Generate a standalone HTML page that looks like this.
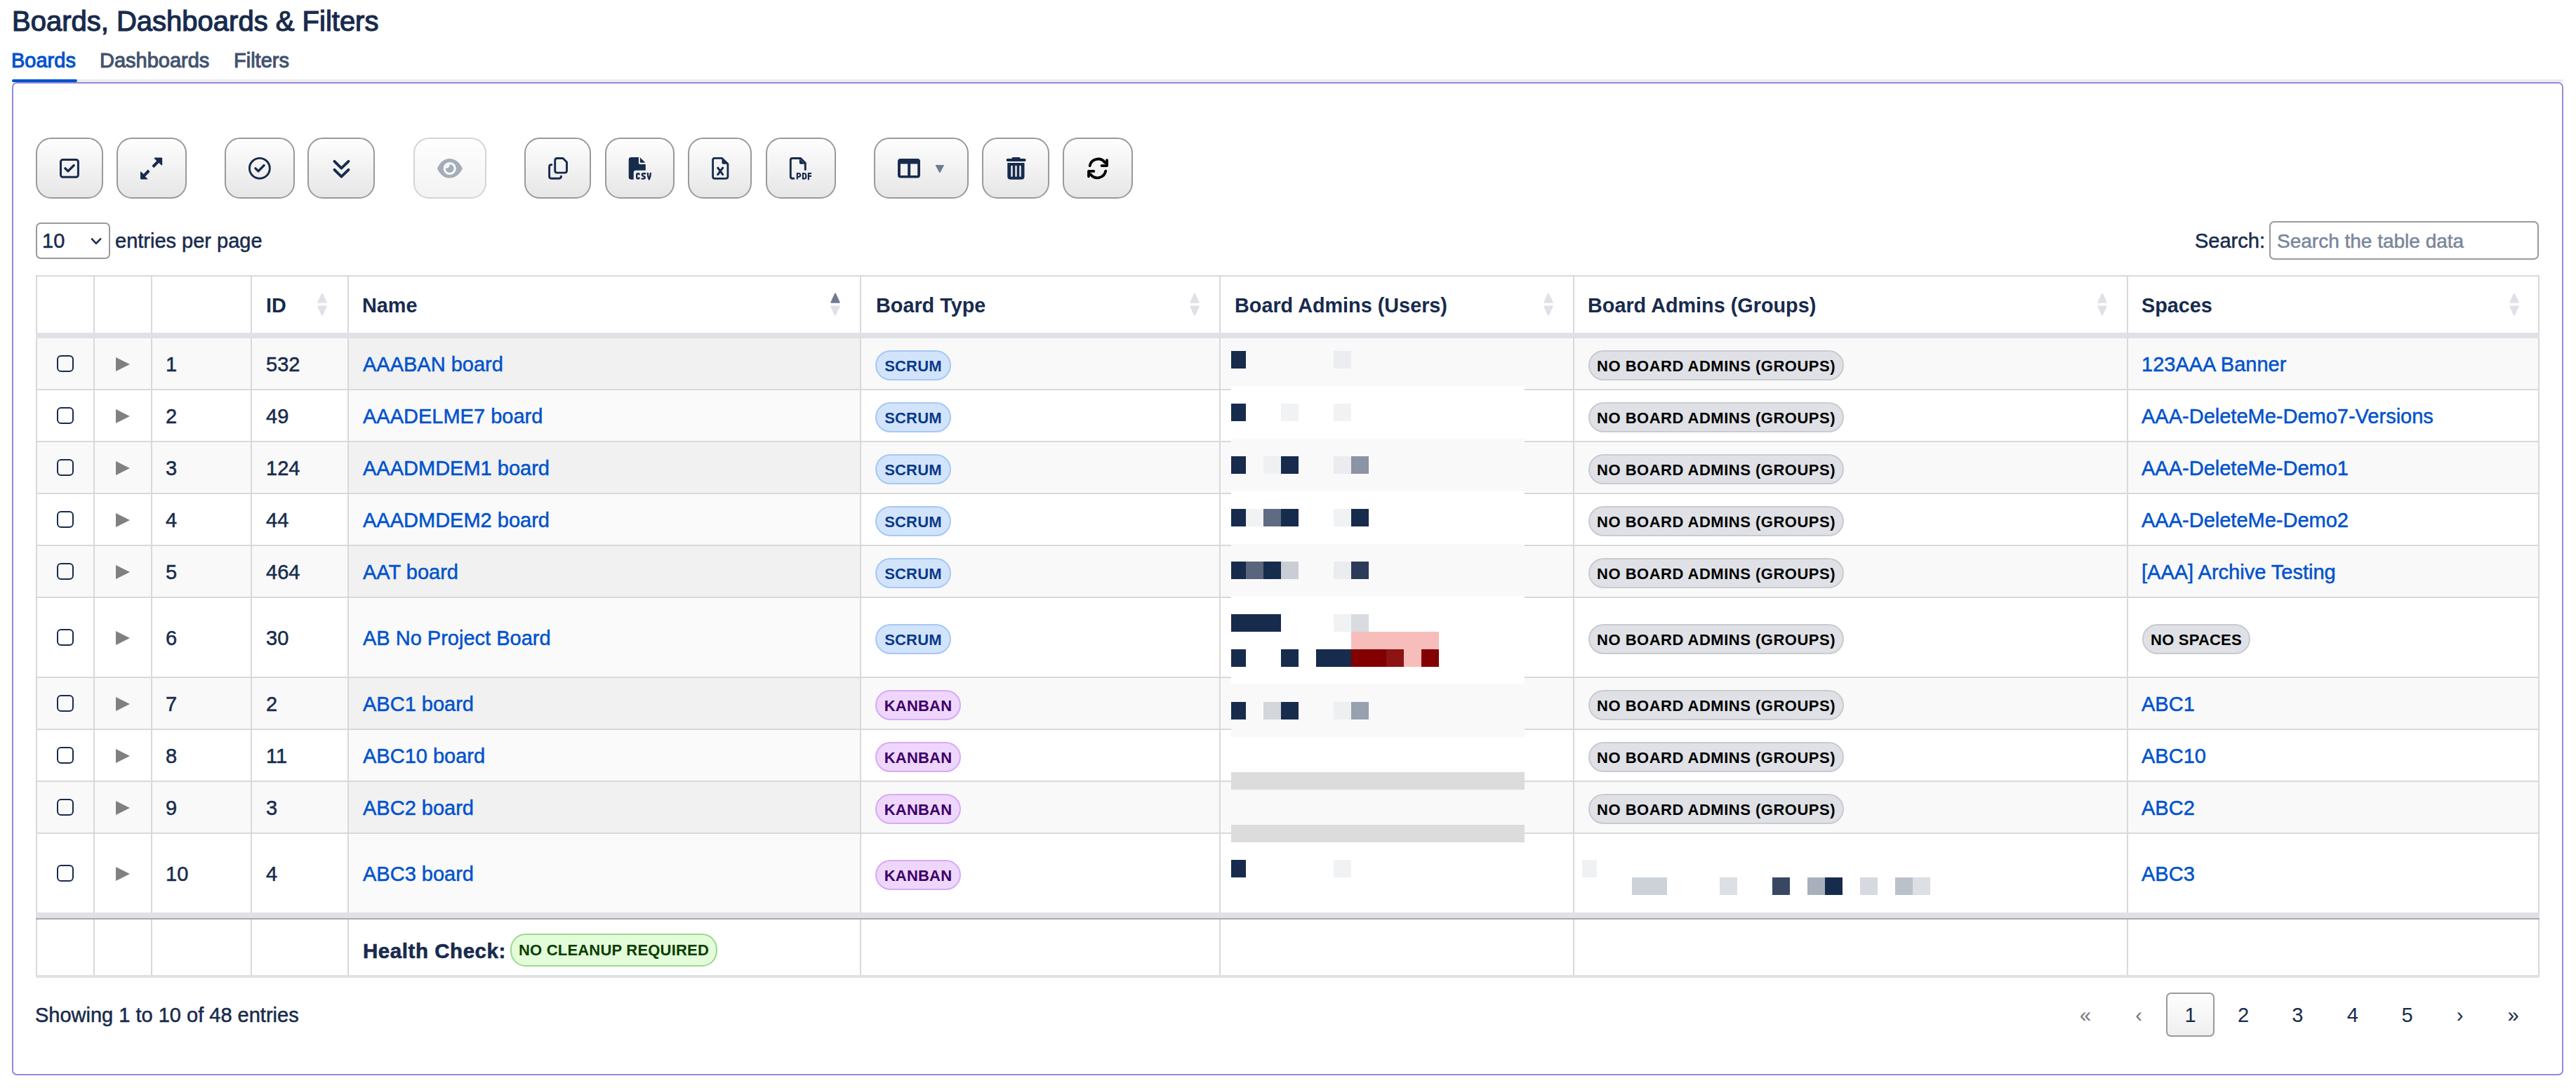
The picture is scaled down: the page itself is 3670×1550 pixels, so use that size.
<!DOCTYPE html>
<html><head><meta charset="utf-8"><title>Boards, Dashboards &amp; Filters</title>
<style>
html,body{margin:0;padding:0;background:#fff}
body{width:3670px;height:1550px;position:relative;overflow:hidden;font-family:"Liberation Sans",sans-serif}
.t{position:absolute;white-space:nowrap}
.b{position:absolute;box-sizing:border-box;border:2px solid;border-radius:22px;font-weight:700;text-align:center;white-space:nowrap;letter-spacing:0.2px}
svg{overflow:visible}
</style></head><body>
<div class="t" style="left:17px;top:8px;font-size:40px;line-height:44px;color:#172b4d;font-weight:400;-webkit-text-stroke:1.2px #172b4d;">Boards, Dashboards &amp; Filters</div>
<div class="t" style="left:16px;top:70px;font-size:29px;line-height:32px;color:#0052cc;font-weight:400;-webkit-text-stroke:1px #0052cc;">Boards</div>
<div class="t" style="left:142px;top:70px;font-size:29px;line-height:32px;color:#42526e;font-weight:400;-webkit-text-stroke:1px #42526e;">Dashboards</div>
<div class="t" style="left:333px;top:70px;font-size:29px;line-height:32px;color:#42526e;font-weight:400;-webkit-text-stroke:1px #42526e;">Filters</div>
<div style="position:absolute;left:17px;top:113px;width:3635px;height:4px;background:#ebecf0;border-radius:2px"></div>
<div style="position:absolute;left:17px;top:113px;width:93px;height:4px;background:#0052cc;border-radius:2px"></div>
<div style="position:absolute;left:17px;top:117px;width:3635px;height:1415px;box-sizing:border-box;border:2px solid #9488d6;border-radius:7px"></div>
<div style="position:absolute;left:51px;top:196px;width:96px;height:87px;box-sizing:border-box;border:2px solid #9a9a9a;border-radius:22px;background:linear-gradient(#fefefe,#e6e6e6)"></div>
<div style="position:absolute;left:166px;top:196px;width:100px;height:87px;box-sizing:border-box;border:2px solid #9a9a9a;border-radius:22px;background:linear-gradient(#fefefe,#e6e6e6)"></div>
<div style="position:absolute;left:320px;top:196px;width:100px;height:87px;box-sizing:border-box;border:2px solid #9a9a9a;border-radius:22px;background:linear-gradient(#fefefe,#e6e6e6)"></div>
<div style="position:absolute;left:438px;top:196px;width:96px;height:87px;box-sizing:border-box;border:2px solid #9a9a9a;border-radius:22px;background:linear-gradient(#fefefe,#e6e6e6)"></div>
<div style="position:absolute;left:589px;top:196px;width:104px;height:87px;box-sizing:border-box;border:2px solid #d4d4d4;border-radius:22px;background:linear-gradient(#fefefe,#f3f3f3)"></div>
<div style="position:absolute;left:747px;top:196px;width:95px;height:87px;box-sizing:border-box;border:2px solid #9a9a9a;border-radius:22px;background:linear-gradient(#fefefe,#e6e6e6)"></div>
<div style="position:absolute;left:862px;top:196px;width:99px;height:87px;box-sizing:border-box;border:2px solid #9a9a9a;border-radius:22px;background:linear-gradient(#fefefe,#e6e6e6)"></div>
<div style="position:absolute;left:980px;top:196px;width:91px;height:87px;box-sizing:border-box;border:2px solid #9a9a9a;border-radius:22px;background:linear-gradient(#fefefe,#e6e6e6)"></div>
<div style="position:absolute;left:1091px;top:196px;width:100px;height:87px;box-sizing:border-box;border:2px solid #9a9a9a;border-radius:22px;background:linear-gradient(#fefefe,#e6e6e6)"></div>
<div style="position:absolute;left:1245px;top:196px;width:135px;height:87px;box-sizing:border-box;border:2px solid #9a9a9a;border-radius:22px;background:linear-gradient(#fefefe,#e6e6e6)"></div>
<div style="position:absolute;left:1399px;top:196px;width:96px;height:87px;box-sizing:border-box;border:2px solid #9a9a9a;border-radius:22px;background:linear-gradient(#fefefe,#e6e6e6)"></div>
<div style="position:absolute;left:1514px;top:196px;width:100px;height:87px;box-sizing:border-box;border:2px solid #9a9a9a;border-radius:22px;background:linear-gradient(#fefefe,#e6e6e6)"></div>
<svg style="position:absolute;left:80px;top:220px" width="40" height="40" viewBox="0 0 40 40"><rect x="6.5" y="7.4" width="24.9" height="24.9" rx="3" fill="none" stroke="#172b4d" stroke-width="3"/><path d="M12.9 19.9 L16.9 23.9 L25.2 15.6" fill="none" stroke="#172b4d" stroke-width="3.4" stroke-linecap="round" stroke-linejoin="round"/></svg>
<svg style="position:absolute;left:195px;top:220px" width="40" height="40" viewBox="0 0 40 40"><path d="M25.4 4.4 H34.8 Q36.2 4.4 36.2 5.8 V14.6 Q36.2 16 34.8 15.2 L31.4 12 L25 18.4 Q24.2 19.2 23.4 18.4 L22 17 Q21.2 16.2 22 15.4 L28.2 9.2 L25 6 Q24.2 4.4 25.4 4.4 Z" fill="#172b4d"/><path d="M15.6 21.6 L17.8 23.6 Q18.8 24.6 17.8 25.6 L11.8 31.6 L15 34.4 Q15.8 35.6 14.6 35.6 H6.4 Q5 35.6 5 34.2 V25.4 Q5 24 6.2 24.8 L9.6 28 L13.8 23.6 Z" fill="#172b4d"/></svg>
<svg style="position:absolute;left:350px;top:220px" width="40" height="40" viewBox="0 0 40 40"><circle cx="19.9" cy="19.85" r="14.45" fill="none" stroke="#172b4d" stroke-width="2.9"/><path d="M14 19.9 L18 23.9 L26.1 15.6" fill="none" stroke="#172b4d" stroke-width="3.4" stroke-linecap="round" stroke-linejoin="round"/></svg>
<svg style="position:absolute;left:466px;top:220px" width="40" height="40" viewBox="0 0 40 40"><path d="M10.5 9.9 L20.4 19.7 L30.5 9.9 M10.5 21.9 L20.4 31.6 L30.5 21.9" fill="none" stroke="#172b4d" stroke-width="3.9" stroke-linecap="round" stroke-linejoin="round"/></svg>
<svg style="position:absolute;left:620px;top:220px" width="40" height="40" viewBox="0 0 40 40"><path d="M2.9 19.9 C7 11 13 6.1 20.5 6.1 C28 6.1 34.5 11 39 19.9 C34.5 28.8 28 33.6 20.5 33.6 C13 33.6 7 28.8 2.9 19.9 Z" fill="#a5adba"/><circle cx="20.7" cy="20" r="9.1" fill="#f9f9f9"/><clipPath id="pc"><circle cx="20.7" cy="20" r="6"/></clipPath><circle cx="20.7" cy="20" r="6" fill="#a5adba"/><circle cx="14.9" cy="14" r="6.1" fill="#f9f9f9" clip-path="url(#pc)"/></svg>
<svg style="position:absolute;left:775px;top:220px" width="40" height="40" viewBox="0 0 40 40"><path d="M17.8 5.5 H27 L32.5 11 V23 Q32.5 26.1 29.4 26.1 H18.8 Q15.7 26.1 15.7 23 V8.6 Q15.7 5.5 18.8 5.5 Z" fill="none" stroke="#172b4d" stroke-width="2.9" stroke-linejoin="round"/><path d="M12.1 14.6 H10.6 Q7.6 14.6 7.6 17.6 V31.2 Q7.6 34.2 10.6 34.2 H21.4 Q24.4 34.2 24.4 31.2 V30.1" fill="none" stroke="#172b4d" stroke-width="2.9"/></svg>
<svg style="position:absolute;left:890px;top:220px" width="40" height="40" viewBox="0 0 40 40"><path d="M9.2 4 H19.9 V11.4 Q19.9 14 22.5 14 H29.8 V22.8 H15.8 Q12.7 22.8 12.7 25.9 V35.7 H9.2 Q5.7 35.7 5.7 32.2 V7.5 Q5.7 4 9.2 4 Z" fill="#172b4d"/><path d="M21.9 4.2 V11.8 H29.4 Z" fill="#172b4d"/><path d="M20.6 28.2 Q20.6 27.3 19 27.3 Q17.2 27.3 17.2 29.2 V32.6 Q17.2 34.5 19 34.5 Q20.6 34.5 20.6 33.4" fill="none" stroke="#172b4d" stroke-width="2.4" stroke-linecap="round"/><path d="M29.2 27.3 H26.6 Q24.8 27.3 24.8 28.9 Q24.8 30.3 26.6 30.9 Q28.8 31.5 28.8 33 Q28.8 34.6 26.8 34.6 H24.6" fill="none" stroke="#172b4d" stroke-width="2.4" stroke-linecap="round"/><path d="M32.8 26.9 Q32.9 32 34.8 35 Q36.7 32 36.8 26.9" fill="none" stroke="#172b4d" stroke-width="2.4" stroke-linecap="round"/></svg>
<svg style="position:absolute;left:1005px;top:220px" width="40" height="40" viewBox="0 0 40 40"><path d="M13 5.4 H23.6 L31.9 13.6 V31.5 Q31.9 34.3 29.1 34.3 H13 Q10.6 34.3 10.6 31.5 V8.2 Q10.6 5.4 13 5.4 Z" fill="none" stroke="#172b4d" stroke-width="2.8" stroke-linejoin="round"/><path d="M23.5 5.5 V11.9 Q23.5 13.8 25.4 13.8 H31.6 Z" fill="#172b4d"/><path d="M17.7 19.2 L24.7 28.6 M24.7 19.2 L17.7 28.6" fill="none" stroke="#172b4d" stroke-width="3" stroke-linecap="round"/></svg>
<svg style="position:absolute;left:1120px;top:220px" width="40" height="40" viewBox="0 0 40 40"><path d="M11.9 34.2 H8.4 Q6.3 34.2 6.3 31.6 V8.1 Q6.3 5.5 8.9 5.5 H20.6 L27.3 12.2 V22.8" fill="none" stroke="#172b4d" stroke-width="2.9" stroke-linejoin="round"/><path d="M18.9 6.2 V12.1 Q18.9 13.8 20.6 13.8 H27 Z" fill="#172b4d"/><path d="M15.8 35.5 V27 H17.6 Q20.2 27 20.2 29.5 Q20.2 32 17.6 32 H15.8" fill="none" stroke="#172b4d" stroke-width="2.2" stroke-linejoin="round"/><path d="M23.9 27 H25.3 Q28.4 27 28.4 31.2 Q28.4 34.6 25.3 34.6 H23.9 Z" fill="none" stroke="#172b4d" stroke-width="2.2" stroke-linejoin="round"/><path d="M31.9 35.5 V27 H35.3 M31.9 30.9 H35.1" fill="none" stroke="#172b4d" stroke-width="2.2" stroke-linecap="round"/></svg>
<svg style="position:absolute;left:1275px;top:220px" width="75" height="40" viewBox="0 0 75 40"><path d="M8 6.1 H32 Q36 6.1 36 10.1 V29.6 Q36 33.6 32 33.6 H8 Q4 33.6 4 29.6 V10.1 Q4 6.1 8 6.1 Z M7.9 13.6 V30 H18.2 V13.6 Z M22.1 13.6 V30 H32.2 V13.6 Z" fill="#172b4d" fill-rule="evenodd"/><path d="M58.6 15.1 H69 Q70.2 15.1 69.6 16.3 L64.8 25.6 Q64 26.9 63.2 25.6 L58 16.3 Q57.4 15.1 58.6 15.1 Z" fill="#707b91"/></svg>
<svg style="position:absolute;left:1427px;top:220px" width="40" height="40" viewBox="0 0 40 40"><path d="M16 3.9 H24.8 Q25.8 3.9 26.4 5 L26.9 5.9 H32.6 Q34.6 5.9 34.6 7.9 Q34.6 9.9 32.6 9.9 H8.6 Q6.6 9.9 6.6 7.9 Q6.6 5.9 8.6 5.9 H14.3 L14.8 5 Q15.2 3.9 16 3.9 Z" fill="#172b4d"/><path d="M8.3 12.1 H32.5 V31.5 Q32.5 35.7 28.3 35.7 H12.5 Q8.3 35.7 8.3 31.5 Z" fill="#172b4d"/><path d="M14.5 17 V30.8 M20.5 17 V30.8 M26.5 17 V30.8" stroke="#f0f0f0" stroke-width="2.4" stroke-linecap="round"/></svg>
<svg style="position:absolute;left:1544px;top:220px" width="40" height="40" viewBox="0 0 40 40"><path d="M8.7 16.1 A12 12 0 0 1 30.2 11.6" fill="none" stroke="#000" stroke-width="3.8" stroke-linecap="round"/><path d="M33 8.2 V16.1 H25.6" fill="none" stroke="#000" stroke-width="3.8" stroke-linecap="round" stroke-linejoin="round"/><path d="M31.2 23.7 A12 12 0 0 1 9.6 28.2" fill="none" stroke="#000" stroke-width="3.8" stroke-linecap="round"/><path d="M7 31.3 V23.9 H14.3" fill="none" stroke="#000" stroke-width="3.8" stroke-linecap="round" stroke-linejoin="round"/></svg>
<div style="position:absolute;left:51px;top:317px;width:106px;height:52px;box-sizing:border-box;border:2px solid #9a9a9a;border-radius:7px;background:#fff"></div>
<div class="t" style="left:60px;top:327px;font-size:29px;line-height:32px;color:#172b4d;font-weight:400;-webkit-text-stroke:0.5px #172b4d;">10</div>
<svg style="position:absolute;left:125px;top:330px" width="25" height="25" viewBox="0 0 25 25"><path d="M5.9 10.4 L12 16.9 L18.2 10.4" fill="none" stroke="#172b4d" stroke-width="2.5" stroke-linecap="round" stroke-linejoin="round"/></svg>
<div class="t" style="left:164px;top:327px;font-size:29px;line-height:32px;color:#172b4d;font-weight:400;-webkit-text-stroke:0.5px #172b4d;">entries per page</div>
<div class="t" style="left:3127px;top:327px;font-size:29px;line-height:32px;color:#172b4d;font-weight:400;-webkit-text-stroke:0.5px #172b4d;">Search:</div>
<div style="position:absolute;left:3233px;top:315px;width:384px;height:55px;box-sizing:border-box;border:2px solid #9a9a9a;border-radius:7px;background:#fff"></div>
<div class="t" style="left:3244px;top:328px;font-size:28px;line-height:31px;color:#7a869a;font-weight:400;-webkit-text-stroke:0.5px #7a869a;">Search the table data</div>
<div style="position:absolute;left:51px;top:482px;width:3567px;height:74px;background:#f9f9f9"></div>
<div style="position:absolute;left:497px;top:482px;width:728px;height:72px;background:#f1f1f1"></div>
<div style="position:absolute;left:51px;top:556px;width:3567px;height:74px;background:#fff"></div>
<div style="position:absolute;left:497px;top:556px;width:728px;height:72px;background:#fafafa"></div>
<div style="position:absolute;left:51px;top:630px;width:3567px;height:74px;background:#f9f9f9"></div>
<div style="position:absolute;left:497px;top:630px;width:728px;height:72px;background:#f1f1f1"></div>
<div style="position:absolute;left:51px;top:704px;width:3567px;height:74px;background:#fff"></div>
<div style="position:absolute;left:497px;top:704px;width:728px;height:72px;background:#fafafa"></div>
<div style="position:absolute;left:51px;top:778px;width:3567px;height:74px;background:#f9f9f9"></div>
<div style="position:absolute;left:497px;top:778px;width:728px;height:72px;background:#f1f1f1"></div>
<div style="position:absolute;left:51px;top:852px;width:3567px;height:114px;background:#fff"></div>
<div style="position:absolute;left:497px;top:852px;width:728px;height:112px;background:#fafafa"></div>
<div style="position:absolute;left:51px;top:966px;width:3567px;height:74px;background:#f9f9f9"></div>
<div style="position:absolute;left:497px;top:966px;width:728px;height:72px;background:#f1f1f1"></div>
<div style="position:absolute;left:51px;top:1040px;width:3567px;height:74px;background:#fff"></div>
<div style="position:absolute;left:497px;top:1040px;width:728px;height:72px;background:#fafafa"></div>
<div style="position:absolute;left:51px;top:1114px;width:3567px;height:74px;background:#f9f9f9"></div>
<div style="position:absolute;left:497px;top:1114px;width:728px;height:72px;background:#f1f1f1"></div>
<div style="position:absolute;left:51px;top:1188px;width:3567px;height:114px;background:#fff"></div>
<div style="position:absolute;left:497px;top:1188px;width:728px;height:112px;background:#fafafa"></div>
<div style="position:absolute;left:51px;top:474px;width:3567px;height:8px;background:#dfe1e6"></div>
<div style="position:absolute;left:51px;top:554px;width:3567px;height:2px;background:#d9d9d9"></div>
<div style="position:absolute;left:51px;top:628px;width:3567px;height:2px;background:#d9d9d9"></div>
<div style="position:absolute;left:51px;top:702px;width:3567px;height:2px;background:#d9d9d9"></div>
<div style="position:absolute;left:51px;top:776px;width:3567px;height:2px;background:#d9d9d9"></div>
<div style="position:absolute;left:51px;top:850px;width:3567px;height:2px;background:#d9d9d9"></div>
<div style="position:absolute;left:51px;top:964px;width:3567px;height:2px;background:#d9d9d9"></div>
<div style="position:absolute;left:51px;top:1038px;width:3567px;height:2px;background:#d9d9d9"></div>
<div style="position:absolute;left:51px;top:1112px;width:3567px;height:2px;background:#d9d9d9"></div>
<div style="position:absolute;left:51px;top:1186px;width:3567px;height:2px;background:#d9d9d9"></div>
<div style="position:absolute;left:51px;top:1300px;width:3567px;height:8px;background:#dfe1e6"></div>
<div style="position:absolute;left:51px;top:1308px;width:3567px;height:2px;background:#ababab"></div>
<div style="position:absolute;left:51px;top:1389px;width:3567px;height:4px;background:#dfe1e6"></div>
<div style="position:absolute;left:51px;top:392px;width:3567px;height:2px;background:#d9d9d9"></div>
<div style="position:absolute;left:51px;top:394px;width:2px;height:80px;background:#d9d9d9"></div>
<div style="position:absolute;left:51px;top:482px;width:2px;height:818px;background:#d9d9d9"></div>
<div style="position:absolute;left:51px;top:1310px;width:2px;height:79px;background:#d9d9d9"></div>
<div style="position:absolute;left:133px;top:394px;width:2px;height:80px;background:#d9d9d9"></div>
<div style="position:absolute;left:133px;top:482px;width:2px;height:818px;background:#d9d9d9"></div>
<div style="position:absolute;left:133px;top:1310px;width:2px;height:79px;background:#d9d9d9"></div>
<div style="position:absolute;left:215px;top:394px;width:2px;height:80px;background:#d9d9d9"></div>
<div style="position:absolute;left:215px;top:482px;width:2px;height:818px;background:#d9d9d9"></div>
<div style="position:absolute;left:215px;top:1310px;width:2px;height:79px;background:#d9d9d9"></div>
<div style="position:absolute;left:357px;top:394px;width:2px;height:80px;background:#d9d9d9"></div>
<div style="position:absolute;left:357px;top:482px;width:2px;height:818px;background:#d9d9d9"></div>
<div style="position:absolute;left:357px;top:1310px;width:2px;height:79px;background:#d9d9d9"></div>
<div style="position:absolute;left:495px;top:394px;width:2px;height:80px;background:#d9d9d9"></div>
<div style="position:absolute;left:495px;top:482px;width:2px;height:818px;background:#d9d9d9"></div>
<div style="position:absolute;left:495px;top:1310px;width:2px;height:79px;background:#d9d9d9"></div>
<div style="position:absolute;left:1225px;top:394px;width:2px;height:80px;background:#d9d9d9"></div>
<div style="position:absolute;left:1225px;top:482px;width:2px;height:818px;background:#d9d9d9"></div>
<div style="position:absolute;left:1225px;top:1310px;width:2px;height:79px;background:#d9d9d9"></div>
<div style="position:absolute;left:1737px;top:394px;width:2px;height:80px;background:#d9d9d9"></div>
<div style="position:absolute;left:1737px;top:482px;width:2px;height:818px;background:#d9d9d9"></div>
<div style="position:absolute;left:1737px;top:1310px;width:2px;height:79px;background:#d9d9d9"></div>
<div style="position:absolute;left:2241px;top:394px;width:2px;height:80px;background:#d9d9d9"></div>
<div style="position:absolute;left:2241px;top:482px;width:2px;height:818px;background:#d9d9d9"></div>
<div style="position:absolute;left:2241px;top:1310px;width:2px;height:79px;background:#d9d9d9"></div>
<div style="position:absolute;left:3030px;top:394px;width:2px;height:80px;background:#d9d9d9"></div>
<div style="position:absolute;left:3030px;top:482px;width:2px;height:818px;background:#d9d9d9"></div>
<div style="position:absolute;left:3030px;top:1310px;width:2px;height:79px;background:#d9d9d9"></div>
<div style="position:absolute;left:3616px;top:394px;width:2px;height:80px;background:#d9d9d9"></div>
<div style="position:absolute;left:3616px;top:482px;width:2px;height:818px;background:#d9d9d9"></div>
<div style="position:absolute;left:3616px;top:1310px;width:2px;height:79px;background:#d9d9d9"></div>
<div class="t" style="left:379px;top:419px;font-size:28.8px;line-height:32px;color:#172b4d;font-weight:700;">ID</div>
<div class="t" style="left:516px;top:419px;font-size:28.8px;line-height:32px;color:#172b4d;font-weight:700;">Name</div>
<div class="t" style="left:1248px;top:419px;font-size:28.8px;line-height:32px;color:#172b4d;font-weight:700;">Board Type</div>
<div class="t" style="left:1759px;top:419px;font-size:28.8px;line-height:32px;color:#172b4d;font-weight:700;">Board Admins (Users)</div>
<div class="t" style="left:2262px;top:419px;font-size:28.8px;line-height:32px;color:#172b4d;font-weight:700;">Board Admins (Groups)</div>
<div class="t" style="left:3051px;top:419px;font-size:28.8px;line-height:32px;color:#172b4d;font-weight:700;">Spaces</div>
<svg style="position:absolute;left:451px;top:415px" width="16" height="38" viewBox="0 0 16 38"><path d="M8 2.6 Q8.6 2.6 9 3.3 L14.6 15.4 Q15 16.8 13.6 16.8 H2.4 Q1 16.8 1.4 15.4 L7 3.3 Q7.4 2.6 8 2.6 Z" fill="#dfe1e6"/><path d="M2.4 20.6 H13.6 Q15 20.6 14.6 22 L9 34.1 Q8.6 34.8 8 34.8 Q7.4 34.8 7 34.1 L1.4 22 Q1 20.6 2.4 20.6 Z" fill="#dfe1e6"/></svg>
<svg style="position:absolute;left:1182px;top:415px" width="16" height="38" viewBox="0 0 16 38"><path d="M8 2.6 Q8.6 2.6 9 3.3 L14.6 15.4 Q15 16.8 13.6 16.8 H2.4 Q1 16.8 1.4 15.4 L7 3.3 Q7.4 2.6 8 2.6 Z" fill="#707b91"/><path d="M2.4 20.6 H13.6 Q15 20.6 14.6 22 L9 34.1 Q8.6 34.8 8 34.8 Q7.4 34.8 7 34.1 L1.4 22 Q1 20.6 2.4 20.6 Z" fill="#dfe1e6"/></svg>
<svg style="position:absolute;left:1694px;top:415px" width="16" height="38" viewBox="0 0 16 38"><path d="M8 2.6 Q8.6 2.6 9 3.3 L14.6 15.4 Q15 16.8 13.6 16.8 H2.4 Q1 16.8 1.4 15.4 L7 3.3 Q7.4 2.6 8 2.6 Z" fill="#dfe1e6"/><path d="M2.4 20.6 H13.6 Q15 20.6 14.6 22 L9 34.1 Q8.6 34.8 8 34.8 Q7.4 34.8 7 34.1 L1.4 22 Q1 20.6 2.4 20.6 Z" fill="#dfe1e6"/></svg>
<svg style="position:absolute;left:2198px;top:415px" width="16" height="38" viewBox="0 0 16 38"><path d="M8 2.6 Q8.6 2.6 9 3.3 L14.6 15.4 Q15 16.8 13.6 16.8 H2.4 Q1 16.8 1.4 15.4 L7 3.3 Q7.4 2.6 8 2.6 Z" fill="#dfe1e6"/><path d="M2.4 20.6 H13.6 Q15 20.6 14.6 22 L9 34.1 Q8.6 34.8 8 34.8 Q7.4 34.8 7 34.1 L1.4 22 Q1 20.6 2.4 20.6 Z" fill="#dfe1e6"/></svg>
<svg style="position:absolute;left:2987px;top:415px" width="16" height="38" viewBox="0 0 16 38"><path d="M8 2.6 Q8.6 2.6 9 3.3 L14.6 15.4 Q15 16.8 13.6 16.8 H2.4 Q1 16.8 1.4 15.4 L7 3.3 Q7.4 2.6 8 2.6 Z" fill="#dfe1e6"/><path d="M2.4 20.6 H13.6 Q15 20.6 14.6 22 L9 34.1 Q8.6 34.8 8 34.8 Q7.4 34.8 7 34.1 L1.4 22 Q1 20.6 2.4 20.6 Z" fill="#dfe1e6"/></svg>
<svg style="position:absolute;left:3574px;top:415px" width="16" height="38" viewBox="0 0 16 38"><path d="M8 2.6 Q8.6 2.6 9 3.3 L14.6 15.4 Q15 16.8 13.6 16.8 H2.4 Q1 16.8 1.4 15.4 L7 3.3 Q7.4 2.6 8 2.6 Z" fill="#dfe1e6"/><path d="M2.4 20.6 H13.6 Q15 20.6 14.6 22 L9 34.1 Q8.6 34.8 8 34.8 Q7.4 34.8 7 34.1 L1.4 22 Q1 20.6 2.4 20.6 Z" fill="#dfe1e6"/></svg>
<div style="position:absolute;left:81px;top:506px;width:24px;height:24px;box-sizing:border-box;border:2px solid #172b4d;border-radius:6px"></div>
<svg style="position:absolute;left:165px;top:509px" width="20" height="20" viewBox="0 0 20 20"><path d="M0 0 L20 10 L0 20 Z" fill="#808080"/></svg>
<div class="t" style="left:236px;top:503px;font-size:29px;line-height:32px;color:#172b4d;font-weight:400;-webkit-text-stroke:0.5px #172b4d;">1</div>
<div class="t" style="left:379px;top:503px;font-size:29px;line-height:32px;color:#172b4d;font-weight:400;-webkit-text-stroke:0.5px #172b4d;">532</div>
<div class="t" style="left:517px;top:503px;font-size:29px;line-height:32px;color:#0052cc;font-weight:400;-webkit-text-stroke:0.5px #0052cc;">AAABAN board</div>
<div class="b" style="left:1247px;top:499.0px;width:108px;height:43px;background:#d2e4fb;border-color:#a6c8f4;color:#0a3a88;font-size:22px;line-height:41px;letter-spacing:0.2px">SCRUM</div>
<div class="b" style="left:2263px;top:499.0px;width:364px;height:43px;background:#dfe1e6;border-color:#c9cbcf;color:#000;font-size:22px;line-height:41px;letter-spacing:0.5px">NO BOARD ADMINS (GROUPS)</div>
<div class="t" style="left:3051px;top:503px;font-size:29px;line-height:32px;color:#0052cc;font-weight:400;-webkit-text-stroke:0.5px #0052cc;">123AAA Banner</div>
<div style="position:absolute;left:81px;top:580px;width:24px;height:24px;box-sizing:border-box;border:2px solid #172b4d;border-radius:6px"></div>
<svg style="position:absolute;left:165px;top:583px" width="20" height="20" viewBox="0 0 20 20"><path d="M0 0 L20 10 L0 20 Z" fill="#808080"/></svg>
<div class="t" style="left:236px;top:577px;font-size:29px;line-height:32px;color:#172b4d;font-weight:400;-webkit-text-stroke:0.5px #172b4d;">2</div>
<div class="t" style="left:379px;top:577px;font-size:29px;line-height:32px;color:#172b4d;font-weight:400;-webkit-text-stroke:0.5px #172b4d;">49</div>
<div class="t" style="left:517px;top:577px;font-size:29px;line-height:32px;color:#0052cc;font-weight:400;-webkit-text-stroke:0.5px #0052cc;">AAADELME7 board</div>
<div class="b" style="left:1247px;top:573.0px;width:108px;height:43px;background:#d2e4fb;border-color:#a6c8f4;color:#0a3a88;font-size:22px;line-height:41px;letter-spacing:0.2px">SCRUM</div>
<div class="b" style="left:2263px;top:573.0px;width:364px;height:43px;background:#dfe1e6;border-color:#c9cbcf;color:#000;font-size:22px;line-height:41px;letter-spacing:0.5px">NO BOARD ADMINS (GROUPS)</div>
<div class="t" style="left:3051px;top:577px;font-size:29px;line-height:32px;color:#0052cc;font-weight:400;-webkit-text-stroke:0.5px #0052cc;">AAA-DeleteMe-Demo7-Versions</div>
<div style="position:absolute;left:81px;top:654px;width:24px;height:24px;box-sizing:border-box;border:2px solid #172b4d;border-radius:6px"></div>
<svg style="position:absolute;left:165px;top:657px" width="20" height="20" viewBox="0 0 20 20"><path d="M0 0 L20 10 L0 20 Z" fill="#808080"/></svg>
<div class="t" style="left:236px;top:651px;font-size:29px;line-height:32px;color:#172b4d;font-weight:400;-webkit-text-stroke:0.5px #172b4d;">3</div>
<div class="t" style="left:379px;top:651px;font-size:29px;line-height:32px;color:#172b4d;font-weight:400;-webkit-text-stroke:0.5px #172b4d;">124</div>
<div class="t" style="left:517px;top:651px;font-size:29px;line-height:32px;color:#0052cc;font-weight:400;-webkit-text-stroke:0.5px #0052cc;">AAADMDEM1 board</div>
<div class="b" style="left:1247px;top:647.0px;width:108px;height:43px;background:#d2e4fb;border-color:#a6c8f4;color:#0a3a88;font-size:22px;line-height:41px;letter-spacing:0.2px">SCRUM</div>
<div class="b" style="left:2263px;top:647.0px;width:364px;height:43px;background:#dfe1e6;border-color:#c9cbcf;color:#000;font-size:22px;line-height:41px;letter-spacing:0.5px">NO BOARD ADMINS (GROUPS)</div>
<div class="t" style="left:3051px;top:651px;font-size:29px;line-height:32px;color:#0052cc;font-weight:400;-webkit-text-stroke:0.5px #0052cc;">AAA-DeleteMe-Demo1</div>
<div style="position:absolute;left:81px;top:728px;width:24px;height:24px;box-sizing:border-box;border:2px solid #172b4d;border-radius:6px"></div>
<svg style="position:absolute;left:165px;top:731px" width="20" height="20" viewBox="0 0 20 20"><path d="M0 0 L20 10 L0 20 Z" fill="#808080"/></svg>
<div class="t" style="left:236px;top:725px;font-size:29px;line-height:32px;color:#172b4d;font-weight:400;-webkit-text-stroke:0.5px #172b4d;">4</div>
<div class="t" style="left:379px;top:725px;font-size:29px;line-height:32px;color:#172b4d;font-weight:400;-webkit-text-stroke:0.5px #172b4d;">44</div>
<div class="t" style="left:517px;top:725px;font-size:29px;line-height:32px;color:#0052cc;font-weight:400;-webkit-text-stroke:0.5px #0052cc;">AAADMDEM2 board</div>
<div class="b" style="left:1247px;top:721.0px;width:108px;height:43px;background:#d2e4fb;border-color:#a6c8f4;color:#0a3a88;font-size:22px;line-height:41px;letter-spacing:0.2px">SCRUM</div>
<div class="b" style="left:2263px;top:721.0px;width:364px;height:43px;background:#dfe1e6;border-color:#c9cbcf;color:#000;font-size:22px;line-height:41px;letter-spacing:0.5px">NO BOARD ADMINS (GROUPS)</div>
<div class="t" style="left:3051px;top:725px;font-size:29px;line-height:32px;color:#0052cc;font-weight:400;-webkit-text-stroke:0.5px #0052cc;">AAA-DeleteMe-Demo2</div>
<div style="position:absolute;left:81px;top:802px;width:24px;height:24px;box-sizing:border-box;border:2px solid #172b4d;border-radius:6px"></div>
<svg style="position:absolute;left:165px;top:805px" width="20" height="20" viewBox="0 0 20 20"><path d="M0 0 L20 10 L0 20 Z" fill="#808080"/></svg>
<div class="t" style="left:236px;top:799px;font-size:29px;line-height:32px;color:#172b4d;font-weight:400;-webkit-text-stroke:0.5px #172b4d;">5</div>
<div class="t" style="left:379px;top:799px;font-size:29px;line-height:32px;color:#172b4d;font-weight:400;-webkit-text-stroke:0.5px #172b4d;">464</div>
<div class="t" style="left:517px;top:799px;font-size:29px;line-height:32px;color:#0052cc;font-weight:400;-webkit-text-stroke:0.5px #0052cc;">AAT board</div>
<div class="b" style="left:1247px;top:795.0px;width:108px;height:43px;background:#d2e4fb;border-color:#a6c8f4;color:#0a3a88;font-size:22px;line-height:41px;letter-spacing:0.2px">SCRUM</div>
<div class="b" style="left:2263px;top:795.0px;width:364px;height:43px;background:#dfe1e6;border-color:#c9cbcf;color:#000;font-size:22px;line-height:41px;letter-spacing:0.5px">NO BOARD ADMINS (GROUPS)</div>
<div class="t" style="left:3051px;top:799px;font-size:29px;line-height:32px;color:#0052cc;font-weight:400;-webkit-text-stroke:0.5px #0052cc;">[AAA] Archive Testing</div>
<div style="position:absolute;left:81px;top:896px;width:24px;height:24px;box-sizing:border-box;border:2px solid #172b4d;border-radius:6px"></div>
<svg style="position:absolute;left:165px;top:899px" width="20" height="20" viewBox="0 0 20 20"><path d="M0 0 L20 10 L0 20 Z" fill="#808080"/></svg>
<div class="t" style="left:236px;top:893px;font-size:29px;line-height:32px;color:#172b4d;font-weight:400;-webkit-text-stroke:0.5px #172b4d;">6</div>
<div class="t" style="left:379px;top:893px;font-size:29px;line-height:32px;color:#172b4d;font-weight:400;-webkit-text-stroke:0.5px #172b4d;">30</div>
<div class="t" style="left:517px;top:893px;font-size:29px;line-height:32px;color:#0052cc;font-weight:400;-webkit-text-stroke:0.5px #0052cc;">AB No Project Board</div>
<div class="b" style="left:1247px;top:889.0px;width:108px;height:43px;background:#d2e4fb;border-color:#a6c8f4;color:#0a3a88;font-size:22px;line-height:41px;letter-spacing:0.2px">SCRUM</div>
<div class="b" style="left:2263px;top:889.0px;width:364px;height:43px;background:#dfe1e6;border-color:#c9cbcf;color:#000;font-size:22px;line-height:41px;letter-spacing:0.5px">NO BOARD ADMINS (GROUPS)</div>
<div class="b" style="left:3052px;top:889.0px;width:154px;height:43px;background:#dfe1e6;border-color:#c9cbcf;color:#000;font-size:22px;line-height:41px;letter-spacing:0.2px">NO SPACES</div>
<div style="position:absolute;left:81px;top:990px;width:24px;height:24px;box-sizing:border-box;border:2px solid #172b4d;border-radius:6px"></div>
<svg style="position:absolute;left:165px;top:993px" width="20" height="20" viewBox="0 0 20 20"><path d="M0 0 L20 10 L0 20 Z" fill="#808080"/></svg>
<div class="t" style="left:236px;top:987px;font-size:29px;line-height:32px;color:#172b4d;font-weight:400;-webkit-text-stroke:0.5px #172b4d;">7</div>
<div class="t" style="left:379px;top:987px;font-size:29px;line-height:32px;color:#172b4d;font-weight:400;-webkit-text-stroke:0.5px #172b4d;">2</div>
<div class="t" style="left:517px;top:987px;font-size:29px;line-height:32px;color:#0052cc;font-weight:400;-webkit-text-stroke:0.5px #0052cc;">ABC1 board</div>
<div class="b" style="left:1247px;top:983.0px;width:122px;height:43px;background:#eed6fc;border-color:#d9a9f5;color:#3d0066;font-size:22px;line-height:41px;letter-spacing:0.2px">KANBAN</div>
<div class="b" style="left:2263px;top:983.0px;width:364px;height:43px;background:#dfe1e6;border-color:#c9cbcf;color:#000;font-size:22px;line-height:41px;letter-spacing:0.5px">NO BOARD ADMINS (GROUPS)</div>
<div class="t" style="left:3051px;top:987px;font-size:29px;line-height:32px;color:#0052cc;font-weight:400;-webkit-text-stroke:0.5px #0052cc;">ABC1</div>
<div style="position:absolute;left:81px;top:1064px;width:24px;height:24px;box-sizing:border-box;border:2px solid #172b4d;border-radius:6px"></div>
<svg style="position:absolute;left:165px;top:1067px" width="20" height="20" viewBox="0 0 20 20"><path d="M0 0 L20 10 L0 20 Z" fill="#808080"/></svg>
<div class="t" style="left:236px;top:1061px;font-size:29px;line-height:32px;color:#172b4d;font-weight:400;-webkit-text-stroke:0.5px #172b4d;">8</div>
<div class="t" style="left:379px;top:1061px;font-size:29px;line-height:32px;color:#172b4d;font-weight:400;-webkit-text-stroke:0.5px #172b4d;">11</div>
<div class="t" style="left:517px;top:1061px;font-size:29px;line-height:32px;color:#0052cc;font-weight:400;-webkit-text-stroke:0.5px #0052cc;">ABC10 board</div>
<div class="b" style="left:1247px;top:1057.0px;width:122px;height:43px;background:#eed6fc;border-color:#d9a9f5;color:#3d0066;font-size:22px;line-height:41px;letter-spacing:0.2px">KANBAN</div>
<div class="b" style="left:2263px;top:1057.0px;width:364px;height:43px;background:#dfe1e6;border-color:#c9cbcf;color:#000;font-size:22px;line-height:41px;letter-spacing:0.5px">NO BOARD ADMINS (GROUPS)</div>
<div class="t" style="left:3051px;top:1061px;font-size:29px;line-height:32px;color:#0052cc;font-weight:400;-webkit-text-stroke:0.5px #0052cc;">ABC10</div>
<div style="position:absolute;left:81px;top:1138px;width:24px;height:24px;box-sizing:border-box;border:2px solid #172b4d;border-radius:6px"></div>
<svg style="position:absolute;left:165px;top:1141px" width="20" height="20" viewBox="0 0 20 20"><path d="M0 0 L20 10 L0 20 Z" fill="#808080"/></svg>
<div class="t" style="left:236px;top:1135px;font-size:29px;line-height:32px;color:#172b4d;font-weight:400;-webkit-text-stroke:0.5px #172b4d;">9</div>
<div class="t" style="left:379px;top:1135px;font-size:29px;line-height:32px;color:#172b4d;font-weight:400;-webkit-text-stroke:0.5px #172b4d;">3</div>
<div class="t" style="left:517px;top:1135px;font-size:29px;line-height:32px;color:#0052cc;font-weight:400;-webkit-text-stroke:0.5px #0052cc;">ABC2 board</div>
<div class="b" style="left:1247px;top:1131.0px;width:122px;height:43px;background:#eed6fc;border-color:#d9a9f5;color:#3d0066;font-size:22px;line-height:41px;letter-spacing:0.2px">KANBAN</div>
<div class="b" style="left:2263px;top:1131.0px;width:364px;height:43px;background:#dfe1e6;border-color:#c9cbcf;color:#000;font-size:22px;line-height:41px;letter-spacing:0.5px">NO BOARD ADMINS (GROUPS)</div>
<div class="t" style="left:3051px;top:1135px;font-size:29px;line-height:32px;color:#0052cc;font-weight:400;-webkit-text-stroke:0.5px #0052cc;">ABC2</div>
<div style="position:absolute;left:81px;top:1232px;width:24px;height:24px;box-sizing:border-box;border:2px solid #172b4d;border-radius:6px"></div>
<svg style="position:absolute;left:165px;top:1235px" width="20" height="20" viewBox="0 0 20 20"><path d="M0 0 L20 10 L0 20 Z" fill="#808080"/></svg>
<div class="t" style="left:236px;top:1229px;font-size:29px;line-height:32px;color:#172b4d;font-weight:400;-webkit-text-stroke:0.5px #172b4d;">10</div>
<div class="t" style="left:379px;top:1229px;font-size:29px;line-height:32px;color:#172b4d;font-weight:400;-webkit-text-stroke:0.5px #172b4d;">4</div>
<div class="t" style="left:517px;top:1229px;font-size:29px;line-height:32px;color:#0052cc;font-weight:400;-webkit-text-stroke:0.5px #0052cc;">ABC3 board</div>
<div class="b" style="left:1247px;top:1225.0px;width:122px;height:43px;background:#eed6fc;border-color:#d9a9f5;color:#3d0066;font-size:22px;line-height:41px;letter-spacing:0.2px">KANBAN</div>
<div class="t" style="left:3051px;top:1229px;font-size:29px;line-height:32px;color:#0052cc;font-weight:400;-webkit-text-stroke:0.5px #0052cc;">ABC3</div>
<div style="position:absolute;left:1754px;top:482px;width:418px;height:68px;background:#f9f9f9"></div>
<div style="position:absolute;left:1754px;top:550px;width:418px;height:75px;background:#fff"></div>
<div style="position:absolute;left:1754px;top:625px;width:418px;height:75px;background:#f9f9f9"></div>
<div style="position:absolute;left:1754px;top:700px;width:418px;height:75px;background:#fff"></div>
<div style="position:absolute;left:1754px;top:775px;width:418px;height:75px;background:#f9f9f9"></div>
<div style="position:absolute;left:1754px;top:850px;width:418px;height:125px;background:#fff"></div>
<div style="position:absolute;left:1754px;top:975px;width:418px;height:75px;background:#f9f9f9"></div>
<div style="position:absolute;left:1754px;top:1050px;width:418px;height:50px;background:#fff"></div>
<div style="position:absolute;left:1754px;top:1100px;width:418px;height:25px;background:#dcdcdc"></div>
<div style="position:absolute;left:1754px;top:1125px;width:418px;height:50px;background:#f9f9f9"></div>
<div style="position:absolute;left:1754px;top:1175px;width:418px;height:25px;background:#dcdcdc"></div>
<div style="position:absolute;left:1754px;top:1200px;width:418px;height:100px;background:#fff"></div>
<div style="position:absolute;left:1754px;top:500px;width:21px;height:25px;background:#172b4d"></div>
<div style="position:absolute;left:1900px;top:500px;width:25px;height:25px;background:#ecedf0"></div>
<div style="position:absolute;left:1754px;top:575px;width:21px;height:25px;background:#172b4d"></div>
<div style="position:absolute;left:1825px;top:575px;width:25px;height:25px;background:#f1f2f4"></div>
<div style="position:absolute;left:1900px;top:575px;width:25px;height:25px;background:#f1f2f4"></div>
<div style="position:absolute;left:1754px;top:650px;width:21px;height:25px;background:#172b4d"></div>
<div style="position:absolute;left:1800px;top:650px;width:25px;height:25px;background:#eff0f2"></div>
<div style="position:absolute;left:1825px;top:650px;width:25px;height:25px;background:#172b4d"></div>
<div style="position:absolute;left:1900px;top:650px;width:25px;height:25px;background:#ebecef"></div>
<div style="position:absolute;left:1925px;top:650px;width:25px;height:25px;background:#8b94a5"></div>
<div style="position:absolute;left:1754px;top:725px;width:21px;height:25px;background:#172b4d"></div>
<div style="position:absolute;left:1775px;top:725px;width:25px;height:25px;background:#f1f2f4"></div>
<div style="position:absolute;left:1800px;top:725px;width:25px;height:25px;background:#5f6b80"></div>
<div style="position:absolute;left:1825px;top:725px;width:25px;height:25px;background:#172b4d"></div>
<div style="position:absolute;left:1900px;top:725px;width:25px;height:25px;background:#f1f2f4"></div>
<div style="position:absolute;left:1925px;top:725px;width:25px;height:25px;background:#172b4d"></div>
<div style="position:absolute;left:1754px;top:800px;width:21px;height:25px;background:#172b4d"></div>
<div style="position:absolute;left:1775px;top:800px;width:25px;height:25px;background:#5a657c"></div>
<div style="position:absolute;left:1800px;top:800px;width:25px;height:25px;background:#172b4d"></div>
<div style="position:absolute;left:1825px;top:800px;width:25px;height:25px;background:#c9cdd4"></div>
<div style="position:absolute;left:1900px;top:800px;width:25px;height:25px;background:#ebecef"></div>
<div style="position:absolute;left:1925px;top:800px;width:25px;height:25px;background:#2c3b59"></div>
<div style="position:absolute;left:1754px;top:875px;width:71px;height:25px;background:#172b4d"></div>
<div style="position:absolute;left:1900px;top:875px;width:25px;height:25px;background:#f1f2f4"></div>
<div style="position:absolute;left:1925px;top:875px;width:25px;height:25px;background:#d8dbe0"></div>
<div style="position:absolute;left:1925px;top:900px;width:125px;height:25px;background:#f7bdbb"></div>
<div style="position:absolute;left:1754px;top:925px;width:21px;height:25px;background:#172b4d"></div>
<div style="position:absolute;left:1825px;top:925px;width:25px;height:25px;background:#172b4d"></div>
<div style="position:absolute;left:1875px;top:925px;width:50px;height:25px;background:#172b4d"></div>
<div style="position:absolute;left:1925px;top:925px;width:50px;height:25px;background:#820000"></div>
<div style="position:absolute;left:1975px;top:925px;width:25px;height:25px;background:#8c1414"></div>
<div style="position:absolute;left:2000px;top:925px;width:25px;height:25px;background:#f7bdbb"></div>
<div style="position:absolute;left:2025px;top:925px;width:25px;height:25px;background:#820000"></div>
<div style="position:absolute;left:1754px;top:1000px;width:21px;height:25px;background:#172b4d"></div>
<div style="position:absolute;left:1800px;top:1000px;width:25px;height:25px;background:#d3d6db"></div>
<div style="position:absolute;left:1825px;top:1000px;width:25px;height:25px;background:#172b4d"></div>
<div style="position:absolute;left:1900px;top:1000px;width:25px;height:25px;background:#eeeff1"></div>
<div style="position:absolute;left:1925px;top:1000px;width:25px;height:25px;background:#97a0ae"></div>
<div style="position:absolute;left:1754px;top:1225px;width:21px;height:25px;background:#172b4d"></div>
<div style="position:absolute;left:1900px;top:1225px;width:25px;height:25px;background:#f1f2f4"></div>
<div style="position:absolute;left:2254px;top:1225px;width:21px;height:25px;background:#f0f1f3"></div>
<div style="position:absolute;left:2325px;top:1250px;width:50px;height:25px;background:#cdd2d9"></div>
<div style="position:absolute;left:2450px;top:1250px;width:25px;height:25px;background:#dcdfe3"></div>
<div style="position:absolute;left:2525px;top:1250px;width:25px;height:25px;background:#384863"></div>
<div style="position:absolute;left:2575px;top:1250px;width:25px;height:25px;background:#a9b0bc"></div>
<div style="position:absolute;left:2600px;top:1250px;width:25px;height:25px;background:#172b4d"></div>
<div style="position:absolute;left:2650px;top:1250px;width:25px;height:25px;background:#d6d9e0"></div>
<div style="position:absolute;left:2700px;top:1250px;width:25px;height:25px;background:#bac1ca"></div>
<div style="position:absolute;left:2725px;top:1250px;width:25px;height:25px;background:#dcdfe3"></div>
<div class="t" style="left:517px;top:1338px;font-size:29.5px;line-height:33px;color:#172b4d;font-weight:700;-webkit-text-stroke:0.6px #172b4d;letter-spacing:0.55px">Health Check:</div>
<div class="b" style="left:727px;top:1330px;width:295px;height:47px;background:#e3fcd9;border-color:#9bd88f;color:#0b3d00;font-size:22px;line-height:43px">NO CLEANUP REQUIRED</div>
<div class="t" style="left:50px;top:1430px;font-size:29px;line-height:32px;color:#172b4d;font-weight:400;-webkit-text-stroke:0.5px #172b4d;">Showing 1 to 10 of 48 entries</div>
<div style="position:absolute;left:3086px;top:1414px;width:69px;height:63px;box-sizing:border-box;border:2px solid #9a9a9a;border-radius:7px;background:linear-gradient(#fefefe,#efefef)"></div>
<div class="t" style="left:2941px;width:60px;text-align:center;top:1430px;font-size:29px;line-height:32px;color:#777">&laquo;</div>
<div class="t" style="left:3017px;width:60px;text-align:center;top:1430px;font-size:29px;line-height:32px;color:#777">&lsaquo;</div>
<div class="t" style="left:3090.5px;width:60px;text-align:center;top:1430px;font-size:29px;line-height:32px;color:#172b4d">1</div>
<div class="t" style="left:3166px;width:60px;text-align:center;top:1430px;font-size:29px;line-height:32px;color:#172b4d">2</div>
<div class="t" style="left:3243.3px;width:60px;text-align:center;top:1430px;font-size:29px;line-height:32px;color:#172b4d">3</div>
<div class="t" style="left:3321.9px;width:60px;text-align:center;top:1430px;font-size:29px;line-height:32px;color:#172b4d">4</div>
<div class="t" style="left:3399.6px;width:60px;text-align:center;top:1430px;font-size:29px;line-height:32px;color:#172b4d">5</div>
<div class="t" style="left:3474.7px;width:60px;text-align:center;top:1430px;font-size:29px;line-height:32px;color:#172b4d">&rsaquo;</div>
<div class="t" style="left:3550.6px;width:60px;text-align:center;top:1430px;font-size:29px;line-height:32px;color:#172b4d">&raquo;</div>
</body></html>
